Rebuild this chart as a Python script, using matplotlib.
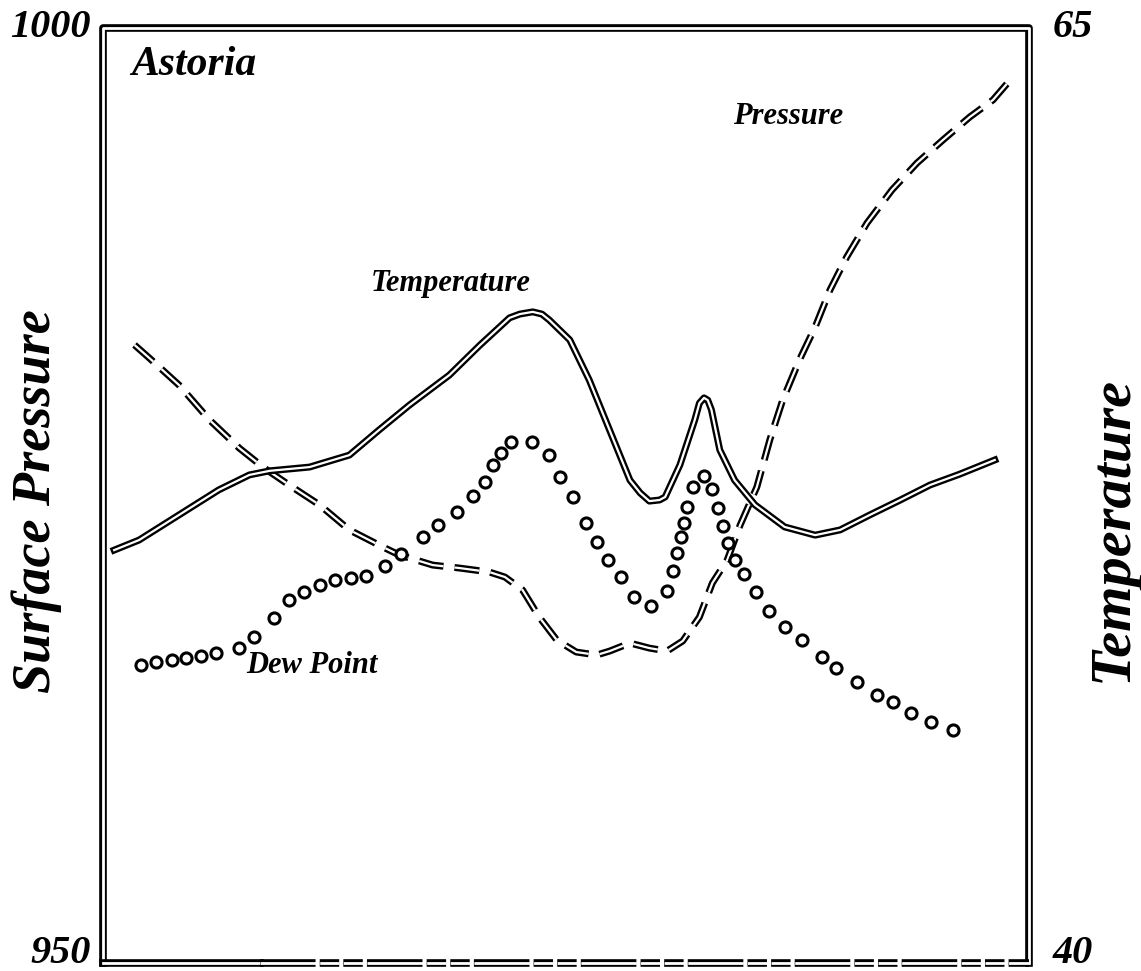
import numpy as np
import matplotlib.pyplot as plt

plt.rcParams['font.family'] = ['Liberation Serif', 'DejaVu Serif']
plt.rcParams['font.weight'] = 'bold'
plt.rcParams['font.style'] = 'italic'
plt.rcParams['lines.scale_dashes'] = False

# relative time (0-100 across the frame)
temp_x = [1.2, 3.9, 8.2, 12.5, 15.8, 18.0, 22.3, 26.6, 29.8, 33.1, 37.4, 40.7, 43.9,
          45.0, 46.4, 47.4, 48.2, 50.4, 52.5, 54.7, 56.9, 58.0, 59.0, 60.1, 60.7,
          62.3, 63.9, 64.4, 64.9, 65.3, 65.7, 66.6, 68.2, 70.4, 73.6, 76.9, 79.6,
          82.8, 86.1, 89.3, 92.5, 96.3]
temp = [51.04, 51.31, 51.98, 52.65, 53.05, 53.16, 53.26, 53.58, 54.25, 54.92, 55.72,
        56.52, 57.25, 57.35, 57.41, 57.35, 57.19, 56.66, 55.59, 54.25, 52.91, 52.57,
        52.35, 52.38, 52.46, 53.32, 54.52, 54.97, 55.11, 55.05, 54.79, 53.72, 52.91,
        52.25, 51.66, 51.44, 51.58, 51.98, 52.38, 52.78, 53.07, 53.45]

pres_x = [3.4, 5.0, 8.2, 11.5, 14.7, 17.4, 20.1, 23.4, 26.6, 30.2, 32.0, 35.6, 38.5,
          41.7, 43.4, 45.3, 47.1, 49.0, 51.1, 53.3, 54.7, 56.9, 59.0, 60.9, 62.6,
          64.4, 65.8, 67.4, 68.8, 70.6, 72.0, 73.4, 75.2, 76.9, 78.5, 80.3, 82.5,
          85.2, 87.9, 90.7, 93.6, 96.1, 97.6]
pres = [983.05, 982.35, 980.91, 979.04, 977.54, 976.47, 975.56, 974.49, 973.16, 972.25,
        971.82, 971.28, 971.12, 970.91, 970.64, 969.95, 968.50, 967.27, 966.63, 966.47,
        966.68, 967.11, 966.84, 966.68, 967.22, 968.50, 970.32, 971.55, 973.42, 975.45,
        977.97, 980.11, 982.25, 984.01, 985.99, 987.75, 989.57, 991.34, 992.78, 994.01,
        995.24, 996.15, 997.01]

dew_x = [4.1, 5.7, 7.4, 9.0, 10.6, 12.2, 14.7, 16.3, 18.5, 20.1, 21.7, 23.4, 25.0,
         26.8, 28.4, 30.4, 32.2, 34.5, 36.2, 38.2, 40.0, 41.2, 42.1, 43.0, 44.1,
         46.3, 48.2, 49.4, 50.7, 52.2, 53.3, 54.5, 55.9, 57.3, 59.2, 60.9, 61.6,
         62.0, 62.4, 62.7, 63.1, 63.7, 64.9, 65.8, 66.4, 66.9, 67.5, 68.2, 69.2,
         70.5, 71.9, 73.6, 75.5, 77.6, 79.2, 81.4, 83.6, 85.3, 87.2, 89.4, 91.8]
dew = [47.97, 48.05, 48.10, 48.16, 48.21, 48.29, 48.42, 48.72, 49.22, 49.71, 49.92,
       50.11, 50.24, 50.29, 50.35, 50.61, 50.94, 51.39, 51.71, 52.06, 52.49, 52.86,
       53.32, 53.64, 53.93, 53.93, 53.58, 52.99, 52.46, 51.76, 51.26, 50.78, 50.32,
       49.79, 49.55, 49.95, 50.48, 50.96, 51.39, 51.76, 52.19, 52.73, 53.02, 52.67,
       52.17, 51.68, 51.23, 50.78, 50.40, 49.92, 49.41, 48.98, 48.64, 48.18, 47.89,
       47.51, 47.17, 46.98, 46.68, 46.44, 46.23]


def double_line(ax, x, y, dashed=False, **kw):
    d = dict(dashes=(18, 8)) if dashed else {}
    ax.plot(x, y, color='black', lw=5.0, solid_joinstyle='round', **d, **kw)
    ax.plot(x, y, color='white', lw=1.6, solid_joinstyle='round', **d, **kw)


fig = plt.figure(figsize=(11.41, 9.71), dpi=100)
ax = fig.add_axes([0.0903, 0.0082, 0.8116, 0.9630])
ax2 = ax.twinx()

ax.set_xlim(0, 100)
ax.set_ylim(950, 1000)
ax2.set_ylim(40, 65)

double_line(ax, pres_x, pres, dashed=True)
double_line(ax2, temp_x, temp)
ax2.plot(dew_x, dew, ls='none', marker='o', ms=8, mfc='white', mec='black', mew=2.2)

for a in (ax, ax2):
    for s in a.spines.values():
        s.set_visible(False)
    a.set_xticks([])
    a.tick_params(length=0, labelsize=29)

ax.set_yticks([950, 1000])
ax.set_yticklabels(['950', '1000'])
ax.tick_params(axis='y', pad=9)
ax2.set_yticks([40, 65])
ax2.set_yticklabels(['40', '65'])
ax2.tick_params(axis='y', pad=17)
for a in (ax, ax2):
    lbls = a.get_yticklabels()
    lbls[0].set_va('baseline')
    lbls[1].set_va('center')

# double-line frame
tr = ax2.transAxes
ax2.plot([0, 0, 1, 1], [0, 1, 1, 0], color='black', lw=5.5, transform=tr, clip_on=False)
ax2.plot([0, 0, 1, 1], [0, 1, 1, 0], color='white', lw=2.0, transform=tr, clip_on=False)
ax2.plot([0, 0.17], [0, 0], color='black', lw=5.5, transform=tr, clip_on=False,
         solid_capstyle='projecting')
ax2.plot([0, 0.17], [0, 0], color='white', lw=2.0, transform=tr, clip_on=False)
ax2.plot([0.17, 1], [0, 0], color='black', lw=5.5, transform=tr, clip_on=False,
         dashes=(40, 3, 14, 3, 14, 3))
ax2.plot([0.17, 1], [0, 0], color='white', lw=2.0, transform=tr, clip_on=False,
         dashes=(40, 3, 14, 3, 14, 3))

ax2.text(0.03, 0.96, 'Astoria', transform=tr, fontsize=30, ha='left', va='center')
ax2.text(0.74, 0.905, 'Pressure', transform=tr, fontsize=22, ha='center', va='center')
ax2.text(0.375, 0.727, 'Temperature', transform=tr, fontsize=22, ha='center', va='center')
ax2.text(0.226, 0.318, 'Dew Point', transform=tr, fontsize=22, ha='center', va='center')

fig.text(0.032, 0.484, 'Surface Pressure', rotation=90, fontsize=39, ha='center', va='center')
fig.text(0.975, 0.455, 'Temperature', rotation=90, fontsize=42, ha='center', va='center')

fig.savefig('out.png', dpi=100, facecolor='white')
